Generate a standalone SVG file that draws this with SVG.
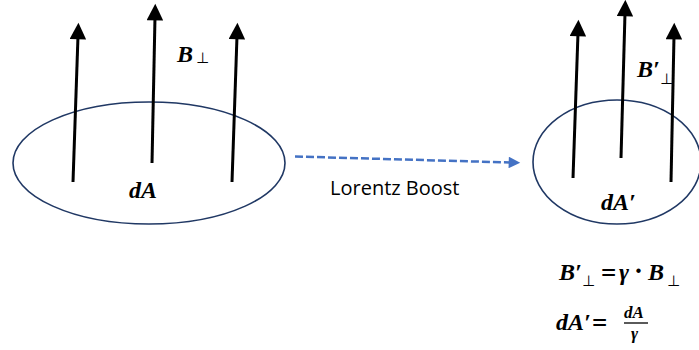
<svg xmlns="http://www.w3.org/2000/svg" width="699" height="350" viewBox="0 0 699 350">
  <defs>
    <marker id="blk" viewBox="0 0 10 10" refX="2" refY="5" markerWidth="6" markerHeight="5.5" markerUnits="strokeWidth" orient="auto">
      <path d="M0,0 L10,5 L0,10 z" fill="#000"/>
    </marker>
    <marker id="blu" viewBox="0 0 10 10" refX="2" refY="5" markerWidth="5.5" markerHeight="4.6" markerUnits="strokeWidth" orient="auto">
      <path d="M0,0 L10,5 L0,10 z" fill="#4472C4"/>
    </marker>
    <style>
      .ell{fill:none;stroke:#203864;stroke-width:1.6}
      .fld{stroke:#000;stroke-width:3;fill:none;marker-end:url(#blk)}
      .m{font-family:"Liberation Serif","DejaVu Serif",serif;font-weight:bold;font-style:italic;fill:#000}
      .op{font-family:"Liberation Serif","DejaVu Serif",serif;font-weight:bold;font-size:27px;fill:#000}
      .sub{font-family:"DejaVu Sans","Liberation Serif",serif;font-size:15px;fill:#000}
      .lbl{font-family:"Open Sans","Noto Sans",sans-serif;font-size:20px;fill:#000}
    </style>
  </defs>
  <g id="area-left">
    <ellipse class="ell" cx="149" cy="163" rx="136" ry="61"/>
    <text class="m" x="129" y="198" font-size="24">dA</text>
  </g>
  <g id="field-left">
    <line class="fld" x1="73" y1="182" x2="78" y2="36"/>
    <line class="fld" x1="152" y1="163" x2="155" y2="17"/>
    <line class="fld" x1="232" y1="182" x2="237" y2="36"/>
    <text class="m" x="177" y="62" font-size="24">B</text>
    <text class="sub" x="196" y="63">⊥</text>
  </g>
  <g id="area-right">
    <ellipse class="ell" cx="617" cy="162" rx="84" ry="62"/>
    <text class="m" x="601" y="210" font-size="24">dA′</text>
  </g>
  <g id="field-right">
    <line class="fld" x1="573" y1="178" x2="578" y2="33"/>
    <line class="fld" x1="621" y1="158" x2="625" y2="13"/>
    <line class="fld" x1="671" y1="182" x2="674" y2="36"/>
    <text class="m" x="637" y="77" font-size="24">B′</text>
    <text class="sub" x="660" y="84">⊥</text>
  </g>
  <g id="connectors">
    <line x1="295" y1="156.5" x2="511" y2="162.5" stroke="#4472C4" stroke-width="2.5" stroke-dasharray="8,3" marker-end="url(#blu)"/>
    <text class="lbl" x="330" y="195">Lorentz Boost</text>
  </g>
  <g id="equations">
    <text class="m" x="559" y="280" font-size="24">B′</text>
    <text class="sub" x="582" y="286">⊥</text>
    <text class="op" x="601" y="282">=</text>
    <text class="m" x="619" y="280" font-size="24">γ</text>
    <text class="op" x="634" y="280" font-size="24">·</text>
    <text class="m" x="648" y="280" font-size="24">B</text>
    <text class="sub" x="667" y="286">⊥</text>
    <text class="m" x="556" y="330" font-size="24">dA′</text>
    <text class="op" x="592" y="332">=</text>
    <text class="m" x="624" y="318" font-size="17">dA</text>
    <line x1="624" y1="323" x2="648" y2="323" stroke="#000" stroke-width="1.3"/>
    <text class="m" x="631" y="339" font-size="17">γ</text>
  </g>
</svg>
